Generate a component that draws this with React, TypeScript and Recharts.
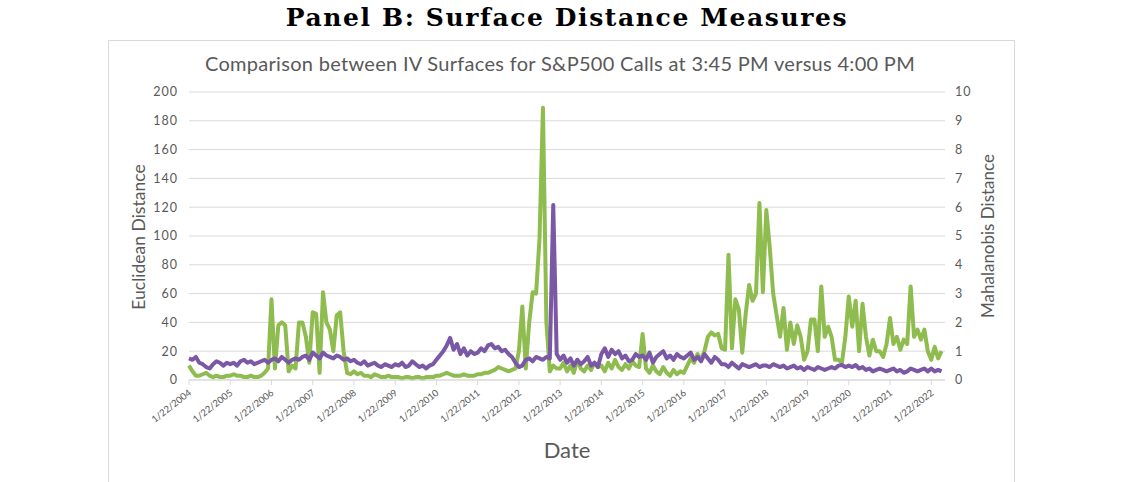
import { LineChart, Line, XAxis, YAxis, CartesianGrid } from "recharts";

// monthly readings, Jan 2004 .. Apr 2022
const EUCLIDEAN = [
  10, 6, 3, 3, 4, 5, 3, 2, 3, 2, 2, 3,
  3, 4, 3, 3, 2, 2, 3, 2, 2, 3, 5, 8,
  56, 8, 38, 40, 38, 6, 10, 8, 40, 40, 30, 12,
  47, 46, 5, 61, 40, 35, 20, 45, 47, 20, 5, 4,
  6, 4, 5, 3, 3, 2, 4, 3, 2, 2, 3, 2,
  2, 2, 1, 2, 2, 1, 2, 2, 1, 2, 2, 2,
  3, 3, 4, 5, 4, 3, 3, 3, 4, 3, 3, 3,
  4, 4, 5, 5, 6, 7, 9, 8, 7, 6, 7, 8,
  20, 51, 8, 40, 61, 60, 98, 189, 40, 6, 10, 8,
  8, 12, 6, 10, 5, 14, 8, 6, 10, 7, 12, 9,
  10, 6, 12, 8, 14, 9, 7, 11, 8, 13, 10, 9,
  32, 8, 5, 10, 6, 4, 9, 5, 3, 7, 4, 6,
  5, 10, 15, 12, 18, 14, 20, 30, 33, 31, 32, 22,
  21, 87, 22, 56, 49, 19, 46, 66, 55, 60, 123, 61,
  118, 92, 60, 45, 30, 50, 21, 40, 25, 38, 30, 14,
  20, 42, 42, 20, 65, 30, 37, 30, 14, 14, 12, 30,
  58, 37, 55, 20, 53, 30, 17, 28, 20, 20, 16, 25,
  43, 25, 30, 21, 28, 25, 65, 30, 35, 28, 35, 20,
  14, 23, 15, 20,
];

const MAHALANOBIS = [
  0.75, 0.7, 0.8, 0.6, 0.55, 0.45, 0.4, 0.55, 0.65, 0.6, 0.5, 0.6,
  0.55, 0.6, 0.5, 0.65, 0.7, 0.6, 0.65, 0.55, 0.6, 0.65, 0.7, 0.6,
  0.7, 0.75, 0.65, 0.8, 0.7, 0.6, 0.7, 0.75, 0.7, 0.8, 0.85, 0.7,
  0.95, 0.85, 0.75, 0.95, 0.85, 0.8, 0.75, 0.85, 0.8, 0.7, 0.75, 0.65,
  0.7, 0.6, 0.55, 0.65, 0.5, 0.55, 0.6, 0.5, 0.45, 0.55, 0.5, 0.45,
  0.55, 0.5, 0.6, 0.45, 0.5, 0.65, 0.55, 0.45, 0.5, 0.4, 0.5, 0.55,
  0.7, 0.85, 1.0, 1.2, 1.46, 1.05, 1.25, 0.9, 1.1, 0.85, 1.0, 0.9,
  0.95, 1.1, 1.0, 1.2, 1.25, 1.1, 1.15, 1.0, 1.05, 0.9, 0.8, 0.6,
  0.45, 0.5, 0.7, 0.75, 0.65, 0.8, 0.75, 0.7, 0.8, 0.75, 6.08, 0.9,
  0.7, 0.85, 0.6, 0.75, 0.5, 0.7, 0.55, 0.65, 0.8, 0.5, 0.6, 0.45,
  0.9, 1.1, 0.8, 1.05, 0.9, 1.0, 0.75, 0.85, 0.65, 0.7, 0.9, 0.8,
  0.85, 0.7, 0.95, 0.6, 0.8, 0.9, 1.0, 0.75, 0.85, 0.7, 0.9, 0.8,
  0.75, 0.85, 0.95, 0.7, 0.8, 0.65, 0.9, 0.75, 0.6, 0.8, 0.7, 0.55,
  0.55, 0.45, 0.6, 0.5, 0.4, 0.55, 0.5, 0.45, 0.5, 0.55, 0.45, 0.5,
  0.5, 0.45, 0.55, 0.5, 0.45, 0.5, 0.4, 0.45, 0.5, 0.4, 0.45, 0.35,
  0.45, 0.4, 0.35, 0.45, 0.4, 0.35, 0.4, 0.45, 0.4, 0.5, 0.52, 0.45,
  0.5, 0.45, 0.52, 0.4, 0.45, 0.35, 0.4, 0.3, 0.35, 0.4, 0.35, 0.3,
  0.35, 0.4, 0.3, 0.35, 0.25, 0.3, 0.4, 0.35, 0.3, 0.35, 0.4, 0.3,
  0.4, 0.3, 0.35, 0.3,
];

const TICK_LABELS = [
  "1/22/2004", "1/22/2005", "1/22/2006", "1/22/2007", "1/22/2008",
  "1/22/2009", "1/22/2010", "1/22/2011", "1/22/2012", "1/22/2013",
  "1/22/2014", "1/22/2015", "1/22/2016", "1/22/2017", "1/22/2018",
  "1/22/2019", "1/22/2020", "1/22/2021", "1/22/2022",
];
const LEFT_TICKS = [0, 20, 40, 60, 80, 100, 120, 140, 160, 180, 200];
const RIGHT_TICKS = [0, 1, 2, 3, 4, 5, 6, 7, 8, 9, 10];

const data = EUCLIDEAN.map((e, i) => ({ m: i, euclid: e, mahal: MAHALANOBIS[i] }));
const xTicks = TICK_LABELS.map((_, i) => i * 12);

const GRAY = "#595959";
const FONT = "Lato, 'Open Sans', sans-serif";

const DateTick = ({ x, y, payload }: any) => {
  const label = TICK_LABELS[Math.round(payload.value / 12)];
  const tx = x + 3;
  const ty = y + 7;
  return (
    <text x={tx} y={ty} transform={`rotate(-38, ${tx}, ${ty})`} textAnchor="end" fontSize={9.5} fill={GRAY} fontFamily={FONT}>
      {label}
    </text>
  );
};

export default function App() {
  return (
    <div style={{ position: "absolute", left: 0, top: 0, width: 1134, height: 482, overflow: "hidden", background: "#fff" }}>
      <div style={{ position: "absolute", left: 0, top: 3, width: 1134, textAlign: "center", fontFamily: "'DejaVu Serif', serif", fontWeight: 700, fontSize: 25, letterSpacing: 1.6 }}>
        Panel B: Surface Distance Measures
      </div>
      <div style={{ position: "absolute", left: 108, top: 40, width: 905, height: 460, border: "1px solid #d9d9d9" }} />
      <div style={{ position: "absolute", left: 0, top: 51, width: 1120, textAlign: "center", fontFamily: FONT, fontSize: 20, letterSpacing: 0.3, color: GRAY }}>
        Comparison between IV Surfaces for S&amp;P500 Calls at 3:45 PM versus 4:00 PM
      </div>
      <div style={{ position: "absolute", left: 0, top: 0, width: 1134, height: 482 }}>
        <LineChart width={1134} height={482} data={data} margin={{ top: 92, right: 109, bottom: 12, left: 109 }}>
          <CartesianGrid yAxisId="left" vertical={false} stroke="#d9d9d9" />
          <XAxis
            dataKey="m"
            type="number"
            domain={[0, 220]}
            ticks={xTicks}
            interval={0}
            height={90}
            tick={<DateTick />}
            tickSize={5}
            stroke="#d9d9d9"
          />
          <YAxis
            yAxisId="left"
            domain={[0, 200]}
            ticks={LEFT_TICKS}
            width={80}
            axisLine={false}
            tickLine={false}
            tickSize={0}
            tickMargin={11}
            tick={{ fill: GRAY, fontSize: 12.5, fontFamily: FONT, letterSpacing: 1 }}
          />
          <YAxis
            yAxisId="right"
            orientation="right"
            domain={[0, 10]}
            ticks={RIGHT_TICKS}
            width={80}
            axisLine={false}
            tickLine={false}
            tickSize={0}
            tickMargin={10}
            tick={{ fill: GRAY, fontSize: 12.5, fontFamily: FONT, letterSpacing: 1 }}
          />
          <Line yAxisId="left" dataKey="euclid" type="linear" stroke="#8fbc4f" strokeWidth={4} dot={false} isAnimationActive={false} strokeLinejoin="round" />
          <Line yAxisId="right" dataKey="mahal" type="linear" stroke="#7a58a6" strokeWidth={4} dot={false} isAnimationActive={false} strokeLinejoin="round" />
        </LineChart>
      </div>
      <div style={{ position: "absolute", left: 138, top: 237, transform: "translate(-50%, -50%) rotate(-90deg)", whiteSpace: "nowrap", fontFamily: FONT, fontSize: 17.5, color: GRAY }}>
        Euclidean Distance
      </div>
      <div style={{ position: "absolute", left: 987, top: 236, transform: "translate(-50%, -50%) rotate(-90deg)", whiteSpace: "nowrap", fontFamily: FONT, fontSize: 17, color: GRAY }}>
        Mahalanobis Distance
      </div>
      <div style={{ position: "absolute", left: 567, top: 449, transform: "translate(-50%, -50%)", fontFamily: FONT, fontSize: 22, color: GRAY }}>
        Date
      </div>
    </div>
  );
}
